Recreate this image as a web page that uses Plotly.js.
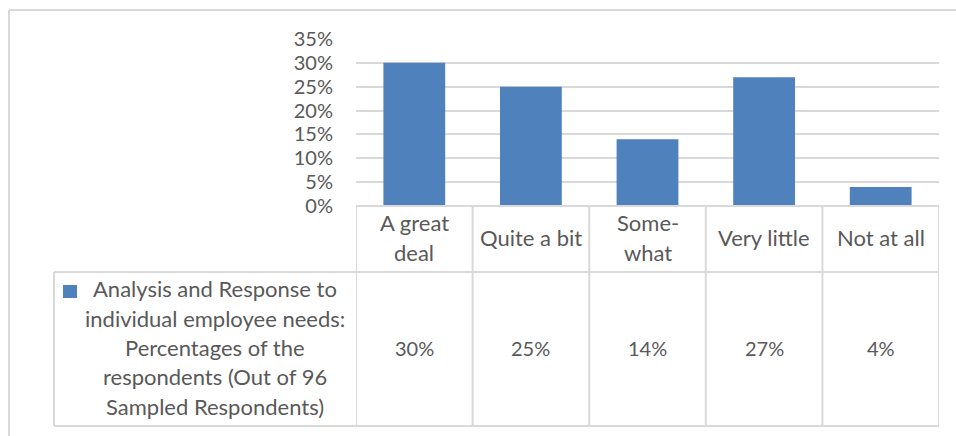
<!DOCTYPE html>
<html>
<head>
<meta charset="utf-8">
<script src="https://cdn.plot.ly/plotly-3.0.1.min.js"></script>
<style>html,body{margin:0;padding:0;background:#fff;}#chart{width:956px;height:436px;}</style>
</head>
<body>
<div id="chart"></div>
<script>
// ---- data ----
const categories = ["A great deal", "Quite a bit", "Some-what", "Very little", "Not at all"];
const categoryLabelLines = [["A great", "deal"], ["Quite a bit"], ["Some-", "what"], ["Very little"], ["Not at all"]];
const values = [0.30, 0.25, 0.14, 0.27, 0.04];
const seriesNameLines = ["Analysis and Response to", "individual employee needs:", "Percentages of the", "respondents (Out of 96", "Sampled Respondents)"];
const seriesName = seriesNameLines.join(" ");

// ---- layout geometry (pixels) ----
const W = 956, H = 436;
const L = 356, R = 939, T = 39, B = 206;
const pw = R - L, ph = B - T;
const px2x = p => (p - L) / pw;
const px2y = p => (B - p) / ph;
const grey = "#D9D9D9", txt = "#595959", blue = "#4F81BD";
const FONT = "Lato, 'Open Sans', sans-serif";
const fs = 20;    // numbers
const fsT = 22;   // words

const headerTop = 206, headerBot = 272, rowBot = 426, legLeft = 54;

const shapes = [];
const line = (x0, y0, x1, y1, xref) => shapes.push({type: "line", xref: xref || "paper", yref: "paper",
  x0: x0, y0: y0, x1: x1, y1: y1, line: {color: grey, width: 2}});
// outer chart frame (cropped at right/bottom)
line(px2x(9), px2y(10), px2x(960), px2y(10));
line(px2x(9), px2y(10), px2x(9), px2y(440));
// table horizontal lines
line(px2x(L), px2y(headerTop), px2x(R), px2y(headerTop));
line(px2x(legLeft), px2y(headerBot), px2x(R), px2y(headerBot));
line(px2x(legLeft), px2y(rowBot), px2x(R), px2y(rowBot));
line(px2x(legLeft), px2y(headerBot), px2x(legLeft), px2y(rowBot));
// vertical lines at category boundaries
for (let k = 0; k <= categories.length; k++) {
  line(k - 0.5, px2y(headerTop), k - 0.5, px2y(rowBot), "x");
}
// legend key square
shapes.push({type: "rect", xref: "paper", yref: "paper", x0: px2x(63), x1: px2x(77), y0: px2y(285), y1: px2y(298),
  fillcolor: blue, line: {width: 0}});

const annotations = [];
const lineH = 30;
categories.forEach((c, i) => {
  const lines = categoryLabelLines[i];
  const mid = (headerTop + headerBot) / 2 - 2;
  lines.forEach((t, j) => {
    const y = mid + (j - (lines.length - 1) / 2) * lineH;
    annotations.push({xref: "x", yref: "paper", x: c, y: px2y(y), text: t, showarrow: false,
      xanchor: "center", yanchor: "middle", font: {family: FONT, size: fsT, color: txt}});
  });
  annotations.push({xref: "x", yref: "paper", x: c, y: px2y((headerBot + rowBot) / 2 - 1), text: Math.round(values[i] * 100) + "%",
    showarrow: false, xanchor: "center", yanchor: "middle", font: {family: FONT, size: fs, color: txt}});
});
const legMid = (headerBot + rowBot) / 2 - 1.5;
const legH = 29.3;
seriesNameLines.forEach((t, j) => {
  const y = legMid + (j - (seriesNameLines.length - 1) / 2) * legH;
  annotations.push({xref: "paper", yref: "paper", x: px2x(215), y: px2y(y), text: t, showarrow: false,
    xanchor: "center", yanchor: "middle", font: {family: FONT, size: fsT, color: txt}});
});

const data = [{
  type: "bar", x: categories, y: values, name: seriesName,
  marker: {color: blue}, hoverinfo: "none"
}];

const layout = {
  width: W, height: H,
  margin: {l: L, r: W - R, t: T, b: H - B, pad: 0},
  paper_bgcolor: "#fff", plot_bgcolor: "#fff",
  showlegend: false,
  bargap: 0.47,
  font: {family: FONT, size: fs, color: txt},
  xaxis: {type: "category", range: [-0.5, categories.length - 0.5], showticklabels: false, showgrid: false,
    zeroline: false, showline: false, ticks: "", fixedrange: true},
  yaxis: {range: [0, 0.35], dtick: 0.05, tick0: 0, tickformat: ".0%", showgrid: true, gridcolor: grey, gridwidth: 2,
    zeroline: false, showline: false, ticks: "", ticklabelstandoff: 22, fixedrange: true,
    tickfont: {family: FONT, size: fs, color: txt}},
  shapes: shapes,
  annotations: annotations
};

Plotly.newPlot("chart", data, layout, {staticPlot: true, displayModeBar: false});
</script>
</body>
</html>
